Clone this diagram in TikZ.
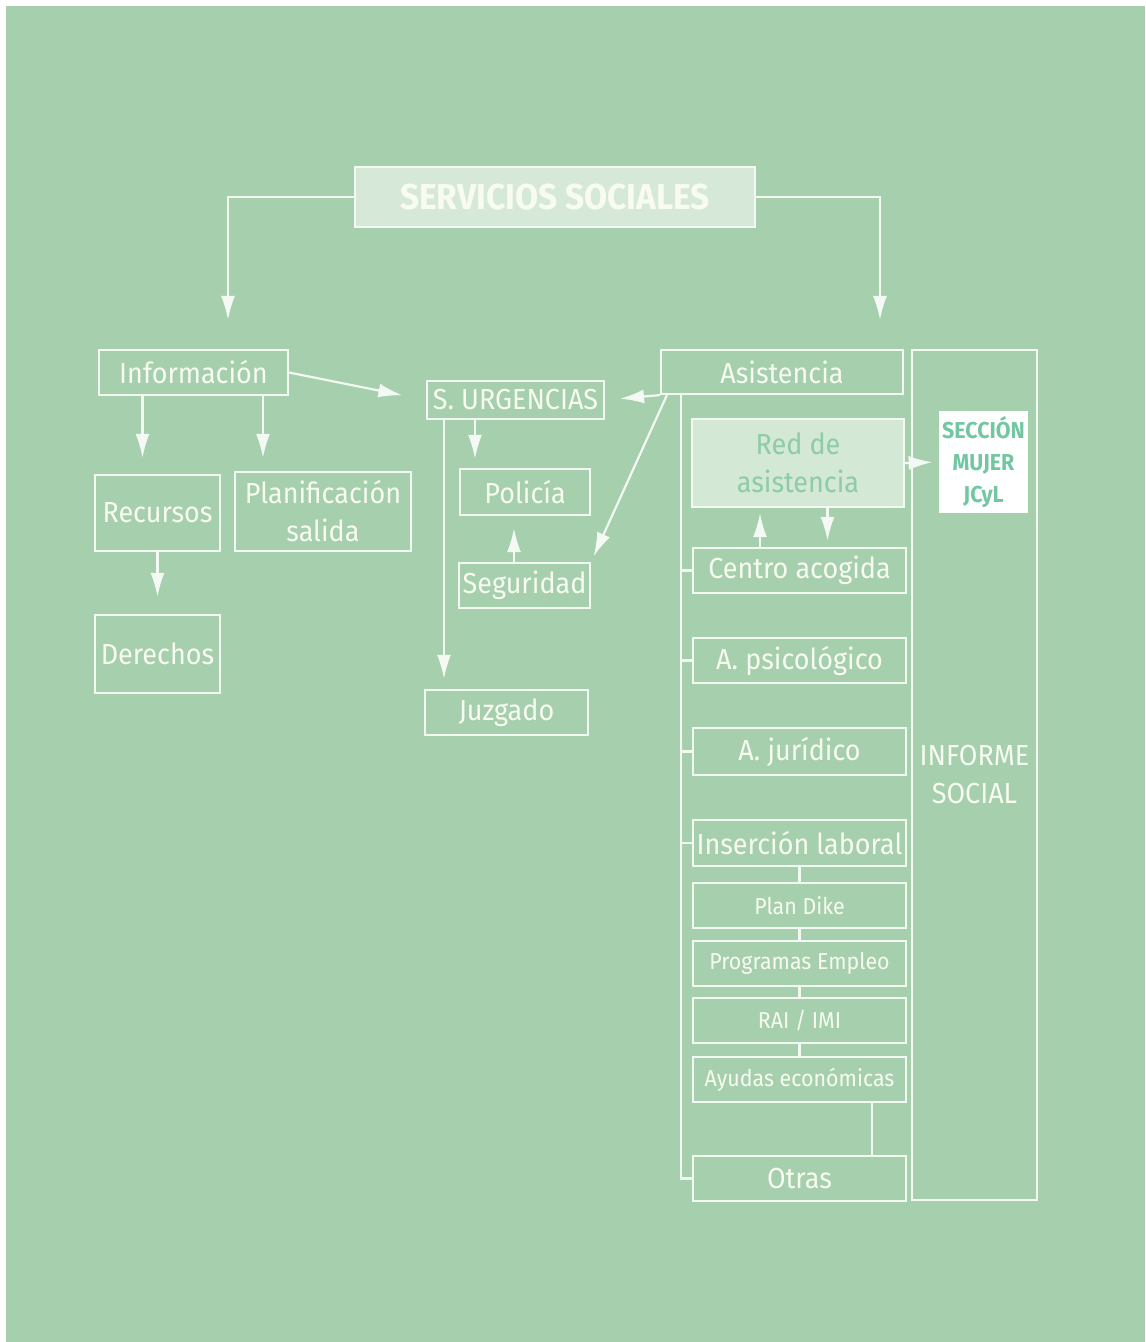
\documentclass[tikz,border=0pt]{standalone}
\usepackage{fontspec}
\setmainfont{Fira Sans}[FakeStretch=0.93]
\usepackage{tikz}
\usetikzlibrary{arrows.meta}
\definecolor{bggreen}{HTML}{A5CFAD}
\definecolor{linecol}{HTML}{F4FAF3}
\definecolor{txtcol}{HTML}{F8FBF0}
\definecolor{titlefill}{HTML}{D6E9D8}
\definecolor{redfill}{HTML}{D3E8D5}
\definecolor{redtext}{HTML}{8ECBA7}
\definecolor{secctext}{HTML}{72C6A2}
\tikzstyle{box} = [draw=linecol,line width=1.1pt,text=txtcol,inner sep=0pt,align=center,font=\fontsize{14.5}{19}\selectfont]
\tikzstyle{smallbox} = [box,font=\fontsize{11.5}{13}\selectfont]
\tikzstyle{arrow} = [draw=linecol,line width=1.1pt,-{Latex[length=12pt,width=7pt]}]
\tikzstyle{link} = [draw=linecol,line width=1.1pt]

\begin{document}
\begin{tikzpicture}[x=0.5pt,y=-0.5pt]
\useasboundingbox (0,0) rectangle (1145,1342);
\fill[white] (0,0) rectangle (1145,1342);
\fill[bggreen] (6,6) rectangle (1145,1342);

% top
\node[box,fill=titlefill,minimum width=200pt,minimum height=30pt,font=\fontsize{18}{22}\selectfont\bfseries] (title) at (555,197) {SERVICIOS SOCIALES};
\coordinate (infoin) at (228,320);
\coordinate (asistin) at (880,320);
\draw[arrow] (title.west) -| (infoin);
\draw[arrow] (title.east) -| (asistin);

% left branch
\node[box,minimum width=94.5pt,minimum height=22.5pt] (info) at (193.5,372.5) {Información};
\node[box,minimum width=62.5pt,minimum height=38pt] (recursos) at (157.5,513) {Recursos};
\node[box,minimum width=88pt,minimum height=39.5pt] (plan) at (323,511.5) {Planificación\\salida};
\node[box,minimum width=62.5pt,minimum height=39pt] (derechos) at (157.5,654) {Derechos};
\draw[arrow,shorten >=8pt] ([xshift=-7.5pt]recursos.north |- info.south) -- ([xshift=-7.5pt]recursos.north);
\draw[arrow,shorten >=6.5pt] ([xshift=34.75pt]info.south) -- ([xshift=34.75pt]info.south |- plan.north);
\draw[arrow,shorten >=8.5pt] (recursos.south) -- (derechos.north);

% urgencias
\node[box,minimum width=88.5pt,minimum height=19pt] (urg) at (515.5,400) {S. URGENCIAS};
\node[box,minimum width=65pt,minimum height=23pt] (policia) at (525,492) {Policía};
\node[box,minimum width=65.5pt,minimum height=22.5pt] (seguridad) at (524.5,585.5) {Seguridad};
\node[box,minimum width=81.5pt,minimum height=22.5pt] (juzgado) at (506.5,712.5) {Juzgado};
\draw[arrow,shorten >=12pt] (info.east) -- (urg.west);
\draw[arrow,shorten >=4.5pt] ([xshift=-20.25pt]urg.south) -- ([xshift=-20.25pt]urg.south |- policia.north);
\draw[arrow,shorten >=5pt] ([xshift=-35.75pt]urg.south) -- ([xshift=-35.75pt]urg.south |- juzgado.north);
\draw[arrow,shorten >=6pt] ([xshift=-5.25pt]seguridad.north) -- ([xshift=-5.25pt]seguridad.north |- policia.south);

% asistencia
\node[box,minimum width=121pt,minimum height=22pt] (asist) at (782,372) {Asistencia};
\draw[arrow,shorten >=7.5pt] (asist.south west) -- (urg.east);
\draw[arrow,shorten >=3pt] ([xshift=3.5pt]asist.south west) -- (seguridad.north east);
\node[box,fill=redfill,text=redtext,minimum width=106pt,minimum height=44pt] (red) at (798,463) {Red de\\asistencia};
\node[fill=white,text=secctext,inner sep=0pt,align=center,minimum width=44.5pt,minimum height=51pt,font=\fontsize{11.5}{16}\selectfont\bfseries] (seccion) at (983.5,462) {SECCIÓN\\MUJER\\JCyL};
\node[box,minimum width=62.5pt,minimum height=425pt] (informe) at (974.5,775) {INFORME\\SOCIAL};
\draw[arrow,shorten >=3pt] (red.east) -- (seccion.west);

\node[box,minimum width=106.5pt,minimum height=22.5pt] (centro) at (799.5,570.5) {Centro acogida};
\node[box,minimum width=106.5pt,minimum height=22.5pt] (psico) at (799.5,660.5) {A. psicológico};
\node[box,minimum width=106.5pt,minimum height=23.5pt] (juridico) at (799.5,751.5) {A. jurídico};
\node[box,minimum width=106.5pt,minimum height=23pt] (insercion) at (799.5,843) {Inserción laboral};
\node[smallbox,minimum width=106.5pt,minimum height=22.5pt] (dike) at (799.5,905.5) {Plan Dike};
\node[smallbox,minimum width=106.5pt,minimum height=22.5pt] (empleo) at (799.5,963.5) {Programas Empleo};
\node[smallbox,minimum width=106.5pt,minimum height=22.5pt] (rai) at (799.5,1020.5) {RAI / IMI};
\node[smallbox,minimum width=106.5pt,minimum height=22.5pt] (ayudas) at (799.5,1079.5) {Ayudas económicas};
\node[box,minimum width=106.5pt,minimum height=22.5pt] (otras) at (799.5,1178.5) {Otras};

\draw[arrow,shorten >=2.5pt] ([xshift=-19.75pt]centro.north) -- ([xshift=-19.75pt]centro.north |- red.south);
\draw[arrow,shorten >=3pt] ([xshift=14.75pt]red.south) -- ([xshift=14.75pt]red.south |- centro.north);

% tree
\coordinate (trunk) at (681,394);
\draw[link] (trunk) |- (otras.west);
\draw[link] (centro.west) -- (centro.west -| trunk);
\draw[link] (psico.west) -- (psico.west -| trunk);
\draw[link] (juridico.west) -- (juridico.west -| trunk);
\draw[link] (insercion.west) -- (insercion.west -| trunk);
\draw[link] (insercion.south) -- (dike.north);
\draw[link] (dike.south) -- (empleo.north);
\draw[link] (empleo.south) -- (rai.north);
\draw[link] (rai.south) -- (ayudas.north);
\draw[link] ([xshift=36.25pt]ayudas.south) -- ([xshift=36.25pt]otras.north);
\end{tikzpicture}
\end{document}
